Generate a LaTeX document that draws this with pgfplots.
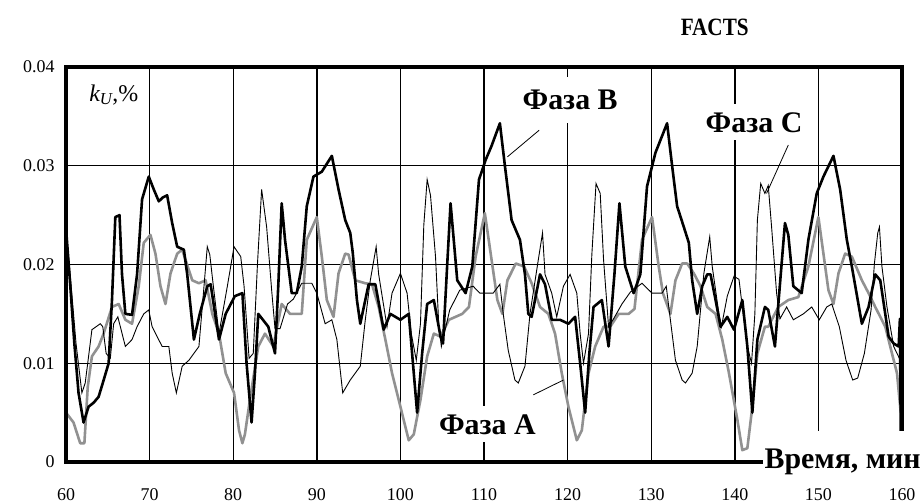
\documentclass[border=0pt]{standalone}
\usepackage{fontspec}
\setmainfont{Liberation Serif}
\usepackage{pgfplots}
\pgfplotsset{compat=1.18}
\definecolor{phA}{RGB}{145,145,145}
\begin{document}
\begin{tikzpicture}
\begin{axis}[
 scale only axis, width=836bp, height=395bp,
 xmin=60, xmax=160, ymin=0, ymax=0.04,
 xtick={60,70,80,90,100,110,120,130,140,150,160},
 xticklabels={60,70,80,90,100,110,120,130,140,150,160},
 ytick={0,0.01,0.02,0.03,0.04},
 yticklabels={0,0.01,0.02,0.03,0.04},
 scaled y ticks=false,
 /pgf/number format/assume math mode=true,
 tick label style={font=\fontsize{18}{18}\selectfont},
 xticklabel style={yshift=-23bp},
 yticklabel style={xshift=-8bp},
 major tick length=0pt,
 grid=major, major grid style={black, line width=1.4bp},
 axis line style={black, line width=2.5bp},
 clip=false,
]
\coordinate (O) at (rel axis cs:0,0);
\coordinate (TR) at (rel axis cs:1,1);
% Phase A (gray)
\addplot[phA, line width=2.6bp, line join=round] coordinates {
(60.0,0.005) (60.9,0.004) (61.7,0.0019) (62.2,0.0019) (62.6,0.0076) (63.1,0.0107) (63.9,0.0117) (64.5,0.013) (65.5,0.0157) (66.3,0.016) (67.1,0.0144) (67.9,0.014) (68.7,0.0178) (69.3,0.0222) (70.1,0.023) (70.7,0.0211) (71.3,0.0178) (71.9,0.016) (72.5,0.0191) (73.3,0.0211) (73.9,0.0215) (75.1,0.0184) (75.9,0.0181) (76.7,0.0184) (77.5,0.015) (78.3,0.013) (79.1,0.009) (80.1,0.007) (80.7,0.0032) (81.1,0.0019) (81.4,0.0028) (82.0,0.0063) (83.0,0.0117) (83.8,0.013) (84.8,0.0117) (85.8,0.016) (86.8,0.015) (88.2,0.015) (88.8,0.0225) (90.0,0.0248) (90.6,0.0208) (91.2,0.0164) (92.0,0.0147) (92.6,0.0191) (93.4,0.0211) (93.8,0.021) (94.6,0.0184) (95.8,0.0181) (96.6,0.018) (97.4,0.0157) (98.2,0.0124) (99.0,0.009) (100.0,0.0056) (101.0,0.0022) (101.6,0.0028) (102.4,0.0063) (103.2,0.0107) (104.0,0.013) (104.8,0.0127) (105.8,0.0144) (107.4,0.015) (108.2,0.0157) (109.0,0.0208) (110.1,0.0252) (110.8,0.0211) (111.6,0.0164) (112.2,0.015) (112.8,0.0184) (113.8,0.0201) (114.8,0.0198) (115.7,0.0181) (116.7,0.0157) (117.7,0.015) (118.5,0.013) (119.3,0.009) (120.1,0.0056) (121.1,0.0022) (121.7,0.0032) (122.5,0.009) (123.3,0.0117) (124.3,0.0137) (125.1,0.0137) (126.1,0.015) (127.3,0.015) (128.0,0.0155) (128.9,0.0225) (130.1,0.0248) (130.9,0.0198) (131.4,0.0171) (132.3,0.015) (132.9,0.0184) (133.7,0.0201) (134.3,0.0201) (135.1,0.0191) (135.9,0.0178) (136.7,0.0157) (137.7,0.015) (138.5,0.0124) (139.3,0.009) (140.3,0.0043) (140.9,0.0012) (141.5,0.0014) (142.1,0.0056) (142.7,0.011) (143.6,0.0137) (144.0,0.0137) (145.2,0.0157) (146.4,0.0164) (147.6,0.0167) (148.8,0.0198) (150.0,0.0248) (150.6,0.0211) (151.2,0.0174) (151.8,0.016) (152.4,0.0191) (153.2,0.0211) (154.0,0.0208) (155.2,0.0184) (156.0,0.0171) (156.8,0.0157) (158.0,0.0137) (158.8,0.011) (159.4,0.009) (159.85,0.005)
};
% Phase C (thin)
\addplot[black, line width=0.9bp] coordinates {
(60.0,0.023) (60.2,0.0218) (60.6,0.018) (61.2,0.012) (61.9,0.007) (62.3,0.008) (63.1,0.0134) (64.1,0.014) (64.4,0.0137) (64.8,0.011) (65.3,0.0105) (65.7,0.014) (66.2,0.0147) (67.1,0.0117) (67.9,0.0124) (68.5,0.0137) (69.3,0.015) (69.9,0.0154) (70.3,0.0137) (71.5,0.0117) (72.3,0.0117) (72.7,0.009) (73.2,0.007) (73.9,0.0097) (74.7,0.0103) (75.9,0.0117) (76.3,0.0157) (76.9,0.0218) (77.2,0.021) (77.6,0.018) (78.3,0.013) (79.3,0.0178) (80.1,0.0218) (80.9,0.0208) (81.3,0.0178) (81.9,0.0105) (82.4,0.011) (82.9,0.020) (83.4,0.0276) (84.0,0.0238) (84.6,0.0174) (85.0,0.0135) (85.6,0.0135) (86.5,0.016) (87.2,0.0165) (88.2,0.0181) (89.4,0.0181) (90.0,0.0171) (91.0,0.014) (91.8,0.0144) (92.4,0.0124) (93.1,0.007) (94.0,0.0083) (95.2,0.0097) (95.8,0.0144) (96.4,0.0184) (97.1,0.0218) (97.4,0.019) (98.4,0.0137) (99.0,0.0171) (100.0,0.0191) (100.8,0.0171) (101.3,0.013) (101.9,0.0103) (102.4,0.014) (102.8,0.024) (103.2,0.0286) (103.6,0.027) (104.2,0.0208) (104.6,0.0137) (104.9,0.0117) (105.9,0.0154) (107.1,0.0174) (108.7,0.0178) (109.5,0.0171) (111.1,0.0171) (111.9,0.018) (112.3,0.015) (112.9,0.0113) (113.7,0.0083) (114.1,0.008) (114.9,0.0097) (115.5,0.015) (116.5,0.0205) (117.0,0.0232) (117.3,0.019) (118.1,0.0171) (118.7,0.0147) (119.5,0.0178) (120.3,0.019) (121.1,0.0171) (121.5,0.013) (121.9,0.010) (122.5,0.013) (122.9,0.021) (123.4,0.0282) (123.9,0.0272) (124.3,0.0205) (124.9,0.0137) (125.5,0.0145) (126.5,0.016) (127.5,0.0172) (128.9,0.0181) (130.1,0.0171) (131.3,0.0171) (131.8,0.0178) (132.1,0.0157) (132.9,0.0103) (133.7,0.0083) (134.1,0.008) (134.9,0.009) (135.5,0.0117) (136.3,0.0191) (137.0,0.0228) (137.3,0.0198) (138.1,0.015) (138.4,0.0137) (139.1,0.0168) (139.9,0.0188) (140.5,0.0185) (140.9,0.0157) (141.5,0.0117) (142.0,0.010) (142.4,0.015) (142.7,0.0245) (143.1,0.0282) (143.6,0.0272) (144.0,0.028) (144.4,0.0238) (145.0,0.0171) (145.4,0.0145) (146.2,0.0157) (147.0,0.0144) (148.2,0.015) (149.2,0.0157) (150.1,0.0144) (151.0,0.0157) (151.6,0.016) (152.5,0.0137) (153.3,0.0103) (154.1,0.0083) (154.7,0.0085) (155.5,0.011) (156.3,0.0154) (156.7,0.0201) (157.1,0.0232) (157.3,0.0238) (157.6,0.0198) (158.2,0.0157) (159.0,0.0117) (159.8,0.0103)
};
% Phase B (thick)
\addplot[black, line width=2.6bp, line join=round] coordinates {
(60.0,0.0237) (60.5,0.018) (61.0,0.012) (61.5,0.007) (62.1,0.004) (62.7,0.0056) (63.3,0.006) (63.9,0.0066) (64.4,0.008) (65.1,0.010) (65.5,0.0164) (65.9,0.0248) (66.4,0.025) (66.7,0.019) (67.1,0.015) (67.9,0.0149) (68.5,0.019) (69.1,0.0266) (69.9,0.0289) (70.5,0.0276) (71.1,0.0264) (71.6,0.0268) (72.1,0.027) (72.7,0.0242) (73.3,0.0218) (74.1,0.0215) (74.5,0.019) (75.3,0.0124) (76.0,0.015) (76.9,0.0178) (77.3,0.018) (78.3,0.0124) (79.1,0.015) (80.2,0.0168) (81.1,0.0171) (81.6,0.010) (82.2,0.004) (82.6,0.009) (83.0,0.015) (84.2,0.0137) (85.0,0.011) (85.4,0.018) (85.8,0.0262) (86.2,0.0225) (87.0,0.0171) (87.6,0.0171) (88.2,0.0198) (88.8,0.0259) (89.6,0.0289) (90.6,0.0294) (91.8,0.031) (92.6,0.0276) (93.4,0.0245) (94.0,0.0232) (94.3,0.0212) (94.8,0.0164) (95.2,0.014) (96.2,0.018) (97.0,0.018) (98.0,0.0134) (98.8,0.015) (100.0,0.0144) (101.0,0.015) (101.5,0.010) (102.0,0.005) (102.6,0.011) (103.2,0.016) (104.0,0.0164) (104.8,0.0127) (105.1,0.012) (105.6,0.020) (106.0,0.0262) (106.8,0.0184) (107.8,0.0171) (108.6,0.0198) (109.4,0.0286) (110.2,0.0306) (110.9,0.032) (111.9,0.0343) (112.5,0.030) (113.3,0.0245) (114.3,0.0225) (114.9,0.019) (115.3,0.015) (115.7,0.0147) (116.7,0.019) (117.3,0.018) (118.1,0.0144) (119.1,0.0144) (120.1,0.014) (120.9,0.0147) (121.5,0.010) (122.1,0.005) (122.6,0.011) (123.1,0.0157) (124.1,0.0164) (124.9,0.0117) (125.6,0.019) (126.2,0.0262) (126.9,0.0198) (127.9,0.0171) (128.7,0.019) (129.5,0.0279) (130.5,0.0313) (131.9,0.0343) (132.5,0.030) (133.1,0.0259) (133.9,0.0238) (134.5,0.0222) (134.9,0.0184) (135.5,0.015) (136.1,0.0178) (136.7,0.019) (137.1,0.019) (137.7,0.0164) (138.3,0.0137) (139.1,0.0147) (139.9,0.0134) (140.9,0.0164) (141.5,0.0117) (142.1,0.005) (142.7,0.0124) (143.6,0.0157) (144.0,0.0154) (144.8,0.0117) (145.4,0.018) (146.0,0.0242) (146.4,0.023) (147.0,0.0178) (148.0,0.0171) (148.8,0.0225) (149.8,0.0272) (150.6,0.0289) (151.8,0.031) (152.6,0.0276) (153.4,0.0225) (154.0,0.0198) (155.2,0.014) (156.0,0.0157) (156.8,0.019) (157.4,0.0184) (158.4,0.0127) (159.0,0.012) (159.6,0.0117) (159.75,0.0145) (159.85,0.003)
};
\coordinate (kU) at (axis cs:62.4,0.0372);
\coordinate (LB) at (axis cs:120.3,0.0367);
\coordinate (LC) at (axis cs:142.3,0.0344);
\coordinate (LA) at (axis cs:110.4,0.0038);
\coordinate (LT) at (axis cs:143.3,-0.0007);
\coordinate (FT) at (axis cs:137.6,0.0440);
\coordinate (B1) at (axis cs:116.6,0.0336);
\coordinate (B2) at (axis cs:112.8,0.0309);
\coordinate (C1) at (axis cs:146.4,0.0321);
\coordinate (C2) at (axis cs:143.8,0.0272);
\coordinate (A1) at (axis cs:115.9,0.0068);
\coordinate (A2) at (axis cs:119.5,0.0083);
\end{axis}
\draw[line width=3.2bp] (O) rectangle (TR);
\node[anchor=west, fill=white, inner sep=3bp, minimum height=44bp, font=\fontsize{24}{24}\selectfont] at (kU) {\itshape k\textsubscript{\itshape U}\upshape,\%};
\node[fill=white, inner sep=3bp, minimum height=46bp, font=\fontsize{30}{30}\selectfont\bfseries] at (LB) {Фаза B};
\node[fill=white, inner sep=3bp, minimum height=36bp, font=\fontsize{30}{30}\selectfont\bfseries] at (LC) {Фаза C};
\node[fill=white, inner sep=3bp, minimum height=36bp, font=\fontsize{30}{30}\selectfont\bfseries] at (LA) {Фаза A};
\node[anchor=base west, fill=white, inner sep=2bp, font=\fontsize{30}{30}\selectfont\bfseries] at (LT) {\rule{0pt}{36bp}Время, мин};
\node[xscale=0.85, font=\fontsize{25}{25}\selectfont\bfseries] at (FT) {FACTS};
\draw[line width=0.8bp] (B1) -- (B2);
\draw[line width=0.8bp] (C1) -- (C2);
\draw[line width=0.8bp] (A1) -- (A2);
\pgfresetboundingbox
\path[use as bounding box] ([shift={(-66bp,-41bp)}]O) rectangle ++(923bp,503bp);
\end{tikzpicture}
\end{document}
